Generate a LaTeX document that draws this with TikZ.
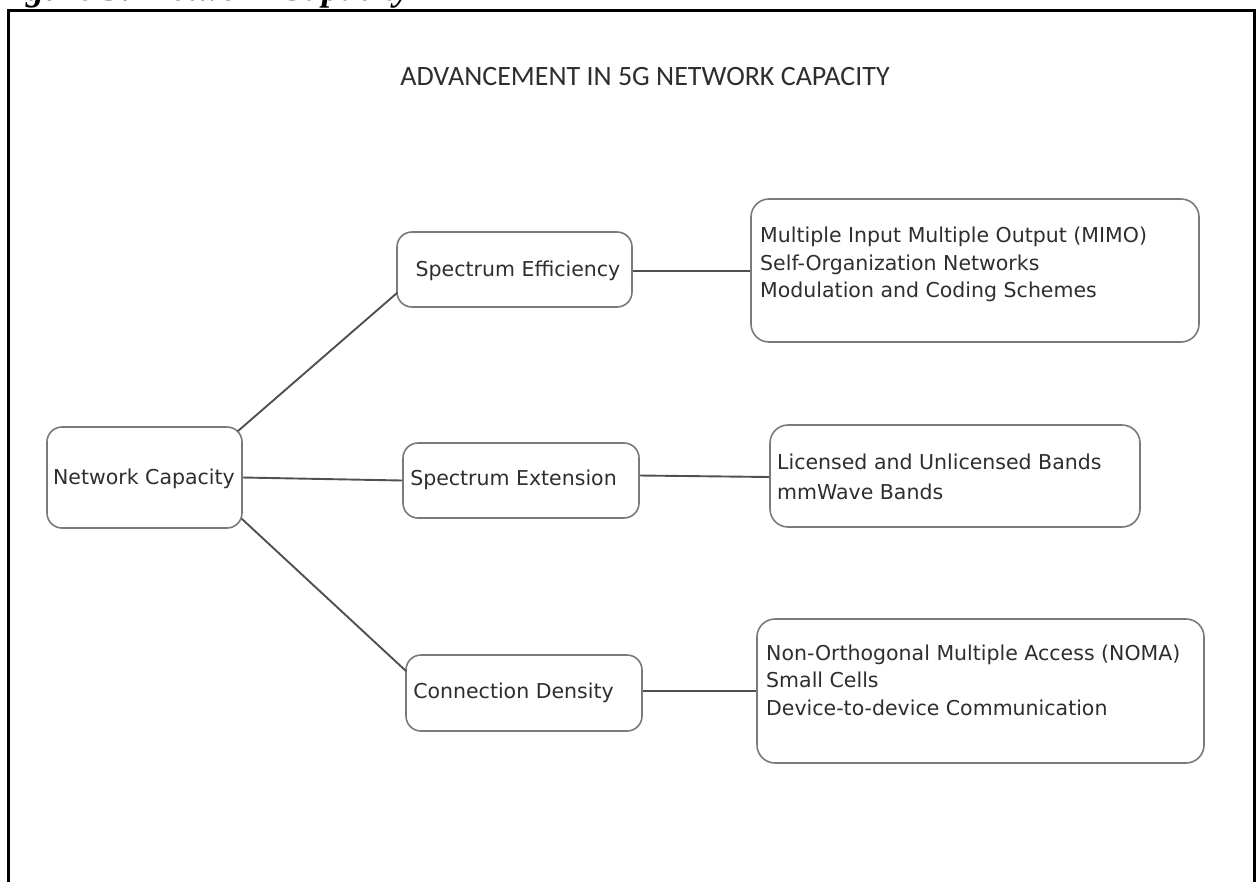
\documentclass[tikz,border=0pt]{standalone}
\usepackage{fontspec}
\newfontfamily\nodefont{DejaVu Sans}
\newfontfamily\headfont{Carlito}
\newfontfamily\capfont{Liberation Serif}
\definecolor{boxline}{HTML}{7A7A7A}
\definecolor{linkline}{HTML}{505050}
\definecolor{ink}{HTML}{2E2E2E}
\begin{document}
\begin{tikzpicture}[x=1pt,y=-1pt,
  box/.style={draw=boxline, line width=1.6pt, rounded corners=15pt, fill=white, inner sep=0pt},
  bigbox/.style={box, rounded corners=18pt},
  txt/.style={text=ink, inner sep=0pt, font=\nodefont\fontsize{20.5}{27.5}\selectfont},
  link/.style={draw=linkline, line width=1.9pt}]
\useasboundingbox (0,0) rectangle (1258,881);
\clip (0,0) rectangle (1258,881);

% caption running off the top edge: only its descenders stay inside
\node[anchor=base west, inner sep=0pt, font=\capfont\bfseries\itshape\fontsize{36}{40}\selectfont] (caption) at (-8,0.5) {Figure 3: Network Capacity};

% outer frame, open at the bottom
\draw[line width=3pt] (8,900) -- (8,10.5) -- (1254,10.5) -- (1254,900);

% heading
\node[text=ink, inner sep=0pt, font=\headfont\fontsize{28}{32}\selectfont] (title) at (645,77) {ADVANCEMENT IN 5G NETWORK CAPACITY};

% central box
\node[box, minimum width=195pt, minimum height=101pt] (nc) at (144.5,477.5) {};
\node[txt] (nctext) at (144,479) {Network Capacity};

% middle column
\node[box, minimum width=235pt, minimum height=75pt] (se) at (514.5,269.5) {};
\node[txt] (setext) at (518,271) {Spectrum Efficiency};
\node[box, minimum width=236pt, minimum height=75pt] (sx) at (521,480.5) {};
\node[txt] (sxtext) at (513.5,480) {Spectrum Extension};
\node[box, minimum width=236pt, minimum height=76pt] (cd) at (524,693) {};
\node[txt] (cdtext) at (513.5,693) {Connection Density};

% detail boxes
\node[bigbox, minimum width=448pt, minimum height=143pt] (mimo) at (975,270.5) {};
\node[txt, anchor=west, align=left] (mimotext) at (760,264.5) {Multiple Input Multiple Output (MIMO)\\Self-Organization Networks\\Modulation and Coding Schemes};
\node[bigbox, minimum width=370pt, minimum height=102pt] (lic) at (955,476) {};
\node[txt, anchor=west, align=left, font=\nodefont\fontsize{20.5}{30}\selectfont] (lictext) at (777,477) {Licensed and Unlicensed Bands\\mmWave Bands};
\node[bigbox, minimum width=447pt, minimum height=144pt] (noma) at (980.5,691) {};
\node[txt, anchor=west, align=left] (nomatext) at (766,680) {Non-Orthogonal Multiple Access (NOMA)\\Small Cells\\Device-to-device Communication};

% connectors
\draw[link] ([shift={(-5,5)}]nc.north east) -- ([shift={(1,-15)}]se.south west);
\draw[link] (nc.east) -- (sx.west);
\draw[link] ([shift={(-1,-10)}]nc.south east) -- ([shift={(1,17)}]cd.north west);
\draw[link] ([shift={(0,1.5)}]se.east) -- ([shift={(0,0.5)}]mimo.west);
\draw[link] ([shift={(0,-5)}]sx.east) -- ([shift={(0,1)}]lic.west);
\draw[link] ([shift={(0,-2)}]cd.east) -- (noma.west);
\end{tikzpicture}
\end{document}
